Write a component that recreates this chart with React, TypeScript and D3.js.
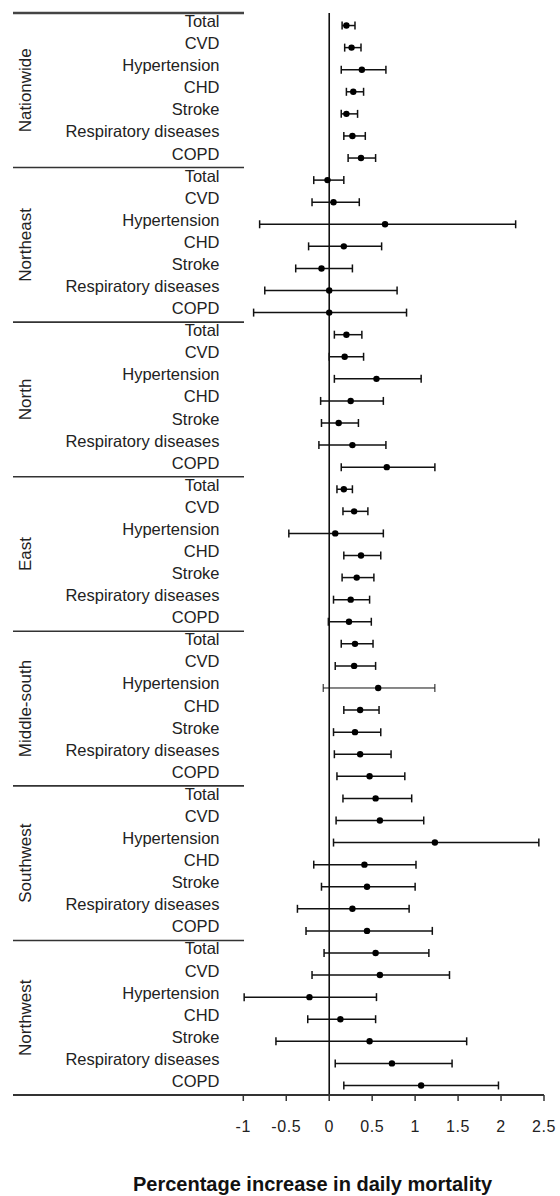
import React from "react";
import * as d3 from "d3";

const regions = ["Nationwide", "Northeast", "North", "East", "Middle-south", "Southwest", "Northwest"];
const causes = ["Total", "CVD", "Hypertension", "CHD", "Stroke", "Respiratory diseases", "COPD"];
const xTicks = [-1, -0.5, 0, 0.5, 1, 1.5, 2, 2.5];

// [lower, estimate, upper] per cause
const nationwide = [[0.15, 0.2, 0.3], [0.18, 0.26, 0.37], [0.14, 0.38, 0.66], [0.2, 0.28, 0.4], [0.14, 0.2, 0.33], [0.17, 0.27, 0.42], [0.22, 0.37, 0.54]];
const northeast = [[-0.18, -0.02, 0.17], [-0.2, 0.05, 0.35], [-0.81, 0.65, 2.17], [-0.24, 0.17, 0.61], [-0.39, -0.09, 0.27], [-0.75, 0.0, 0.79], [-0.88, 0.0, 0.9]];
const north = [[0.06, 0.2, 0.38], [0.0, 0.18, 0.4], [0.06, 0.55, 1.07], [-0.1, 0.25, 0.63], [-0.09, 0.11, 0.34], [-0.12, 0.27, 0.66], [0.14, 0.67, 1.23]];
const east = [[0.09, 0.17, 0.27], [0.16, 0.29, 0.45], [-0.47, 0.07, 0.63], [0.17, 0.37, 0.6], [0.15, 0.32, 0.52], [0.05, 0.25, 0.47], [-0.01, 0.23, 0.49]];
const middleSouth = [[0.14, 0.3, 0.51], [0.07, 0.29, 0.54], [-0.07, 0.57, 1.23], [0.17, 0.36, 0.58], [0.05, 0.3, 0.6], [0.06, 0.36, 0.72], [0.09, 0.47, 0.88]];
const southwest = [[0.16, 0.54, 0.96], [0.08, 0.59, 1.1], [0.05, 1.23, 2.44], [-0.18, 0.41, 1.01], [-0.09, 0.44, 1.0], [-0.37, 0.27, 0.93], [-0.27, 0.44, 1.2]];
const northwest = [[-0.06, 0.54, 1.16], [-0.2, 0.59, 1.4], [-0.99, -0.23, 0.55], [-0.25, 0.13, 0.54], [-0.62, 0.47, 1.6], [0.07, 0.73, 1.43], [0.17, 1.07, 1.97]];

const regionData = [nationwide, northeast, north, east, middleSouth, southwest, northwest];

const W = 560;
const H = 1196;
const TOP = 13;
const BOTTOM = 1095;
const TABLE_LEFT = 13;
const TABLE_RIGHT = 244;
const LABEL_X = 219.5;
const FONT = "'Liberation Sans', Arial, Helvetica, sans-serif";
const INK = "#222";

export default function App() {
  const x = d3.scaleLinear().domain([-1, 2.5]).range([243.3, 544]);
  const rows = regions.flatMap((r) => causes.map((c) => `${r}|${c}`));
  const y = d3.scaleBand<string>().domain(rows).range([TOP, BOTTOM]).padding(0);
  const groupY = d3.scaleBand<string>().domain(regions).range([TOP, BOTTOM]).padding(0);
  const rc = (key: string) => (y(key) as number) + y.bandwidth() / 2 + 1.5;
  const cap = 4;

  return (
    <svg
      width={W}
      height={H}
      viewBox={`0 0 ${W} ${H}`}
      style={{ position: "absolute", left: 0, top: 0, display: "block", background: "#fff" }}
      fontFamily={FONT}
    >
      <rect x={0} y={0} width={W} height={H} fill="#fff" />
      {/* table lines */}
      <line x1={TABLE_LEFT} x2={TABLE_RIGHT} y1={TOP} y2={TOP} stroke="#444" strokeWidth={2.5} />
      {regions.slice(1).map((r) => (
        <line key={`sep-${r}`} x1={TABLE_LEFT} x2={TABLE_RIGHT} y1={groupY(r)} y2={groupY(r)} stroke="#333" strokeWidth={1.6} />
      ))}
      {/* group labels */}
      {regions.map((r) => {
        const cy = (groupY(r) as number) + groupY.bandwidth() / 2;
        return (
          <text
            key={`g-${r}`}
            transform={`translate(31,${cy}) rotate(-90)`}
            textAnchor="middle"
            fontSize={17}
            fill={INK}
          >
            {r}
          </text>
        );
      })}
      {/* row labels */}
      {rows.map((key) => (
        <text key={`l-${key}`} x={LABEL_X} y={rc(key) + 1.5} textAnchor="end" fontSize={16.5} fill={INK}>
          {key.split("|")[1]}
        </text>
      ))}
      {/* zero line */}
      <line x1={x(0)} x2={x(0)} y1={TOP} y2={BOTTOM} stroke="#111" strokeWidth={1.6} />
      {/* error bars */}
      {regions.map((r, gi) =>
        causes.map((c, ci) => {
          const [lo, est, hi] = regionData[gi][ci];
          const key = `${r}|${c}`;
          const cy = rc(key);
          const sw = r === "Middle-south" && c === "Hypertension" ? 1 : 1.5;
          return (
            <g key={`e-${key}`} stroke="#111" strokeWidth={sw}>
              <line x1={x(lo)} x2={x(hi)} y1={cy} y2={cy} />
              <line x1={x(lo)} x2={x(lo)} y1={cy - cap} y2={cy + cap} />
              <line x1={x(hi)} x2={x(hi)} y1={cy - cap} y2={cy + cap} />
              <circle cx={x(est)} cy={cy} r={3.2} fill="#000" stroke="none" />
            </g>
          );
        })
      )}
      {/* x axis */}
      <line x1={TABLE_LEFT} x2={x(2.5)} y1={BOTTOM} y2={BOTTOM} stroke="#333" strokeWidth={1.8} />
      {xTicks.map((t) => (
        <g key={`t-${t}`}>
          <line x1={x(t)} x2={x(t)} y1={BOTTOM} y2={BOTTOM + 6} stroke="#333" strokeWidth={1.5} />
          <text x={x(t)} y={1131.5} textAnchor="middle" fontSize={16} fill={INK} letterSpacing={0.6}>
            {String(t)}
          </text>
        </g>
      ))}
      <text x={312.5} y={1190.5} textAnchor="middle" fontSize={20} fontWeight="bold" fill="#111">
        Percentage increase in daily mortality
      </text>
    </svg>
  );
}
